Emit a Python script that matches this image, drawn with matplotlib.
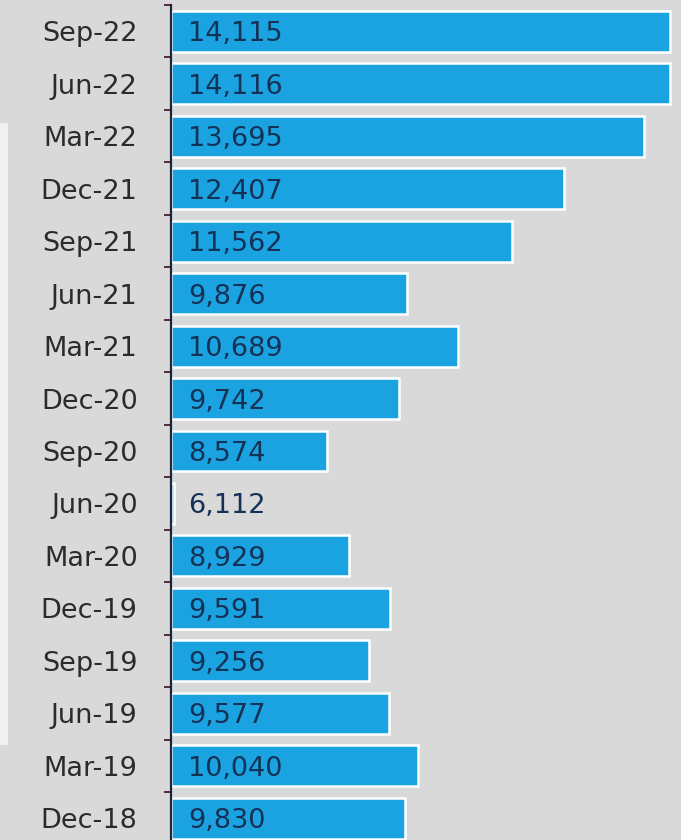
import matplotlib
matplotlib.use("Agg")
import matplotlib.pyplot as plt
import matplotlib.transforms as mtransforms
from matplotlib.patches import Rectangle

# Quarterly values, newest first
quarters = ["Sep-22", "Jun-22", "Mar-22", "Dec-21", "Sep-21", "Jun-21", "Mar-21", "Dec-20",
            "Sep-20", "Jun-20", "Mar-20", "Dec-19", "Sep-19", "Jun-19", "Mar-19", "Dec-18"]
values = [14115, 14116, 13695, 12407, 11562, 9876, 10689, 9742,
          8574, 6112, 8929, 9591, 9256, 9577, 10040, 9830]

BG = "#d9d9d9"
BAR = "#1ba3e1"
VALUE_TXT = "#143156"
CAT_TXT = "#2b2b2b"

W, H, DPI = 681, 840, 100
fig = plt.figure(figsize=(W / DPI, H / DPI), dpi=DPI, facecolor=BG)

# light strip along the left margin
fig.patches.append(Rectangle((0, 1 - 745 / H), 8 / W, (745 - 123) / H,
                             transform=fig.transFigure, facecolor="#f0f0f0",
                             edgecolor="none", zorder=0))

row_px = 52.47
left_px, top_px = 171, 5
ax_h = len(quarters) * row_px
ax = fig.add_axes([left_px / W, 1 - (top_px + ax_h) / H, (W - left_px) / W, ax_h / H])
ax.set_facecolor(BG)

y = list(range(len(quarters)))
xmin, xmax = 6060, 14290
ax.barh(y, [v - xmin for v in values], left=xmin, height=0.78, color=BAR,
        edgecolor="white", linewidth=1.8, zorder=2)
ax.set_xlim(xmin, xmax)
ax.set_ylim(len(quarters) - 0.5, -0.5)

for s in ["top", "right", "bottom"]:
    ax.spines[s].set_visible(False)
ax.spines["left"].set_color("#1a2540")
ax.spines["left"].set_linewidth(1.6)
ax.spines["left"].set_zorder(3)
ax.set_xticks([])

# boundary ticks between rows, labels centred on rows
ax.set_yticks([i - 0.5 for i in range(len(quarters) + 1)])
ax.set_yticklabels([])
ax.tick_params(axis="y", which="major", length=5, width=1.3, color="#4a1a2a")
ax.set_yticks(y, minor=True)
ax.set_yticklabels(quarters, minor=True, fontsize=19.5, color=CAT_TXT,
                   family="DejaVu Sans")
ax.tick_params(axis="y", which="minor", length=0, pad=24)

trans = mtransforms.blended_transform_factory(ax.transAxes, ax.transData)
offset = mtransforms.ScaledTranslation(17 / DPI, 0, fig.dpi_scale_trans)
for yi, v in zip(y, values):
    ax.text(0, yi, f"{v:,}", transform=trans + offset, ha="left", va="center_baseline",
            fontsize=19.5, color=VALUE_TXT, family="DejaVu Sans", zorder=4)

fig.savefig("out.png", dpi=DPI, facecolor=BG)
